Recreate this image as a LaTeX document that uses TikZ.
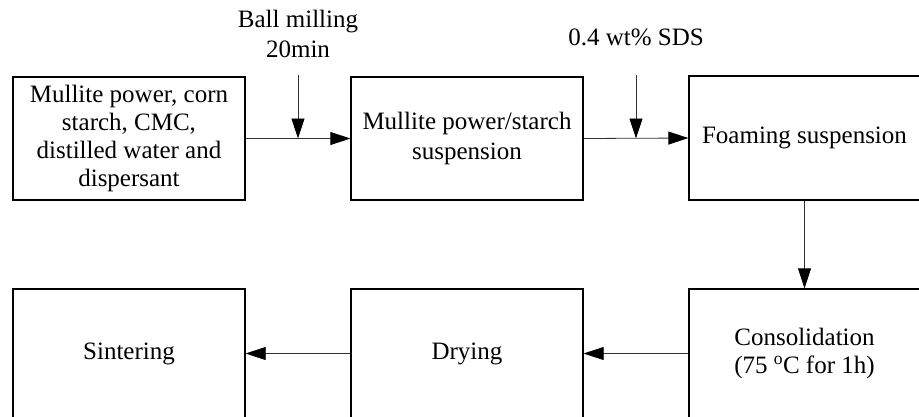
\documentclass[tikz,border=0pt]{standalone}
\usepackage{fontspec}
\setmainfont{Liberation Serif}
\usetikzlibrary{arrows.meta}
\begin{document}
\begin{tikzpicture}[x=1pt,y=-1pt,
  stage/.style={draw=black,line width=1.3pt,minimum width=232pt,inner sep=0pt,align=center,
    font=\fontsize{25}{28.3}\selectfont},
  conn/.style={draw=black!80,line width=0.8pt,-{Triangle[length=20pt,width=13pt,color=black]}},
  lab/.style={inner sep=0pt,align=center,font=\fontsize{25}{30}\selectfont}]
\useasboundingbox (0,0) rectangle (919,416);
\clip (0,0) rectangle (919,416);
% top row
\node[stage,minimum height=123pt] (b1) at (129,138.5) {Mullite power, corn\\starch, CMC,\\distilled water and\\dispersant};
\node[stage,minimum height=123pt,font=\fontsize{25}{30}\selectfont] (b2) at (467,138.5) {Mullite power/starch\\suspension};
\node[stage,minimum height=124pt,minimum width=231pt] (b3) at (804.5,138) {Foaming suspension};
% bottom row
\node[stage,minimum height=129pt] (b6) at (129,353.5) {Sintering};
\node[stage,minimum height=129pt] (b5) at (467,353.5) {Drying};
\node[stage,minimum height=129pt,minimum width=231pt] (b4) at (804.5,353.5) {Consolidation\\(75 \textsuperscript{o}C for 1h)};
% labels
\node[lab] (l1) at (298,34) {Ball milling\\20min};
\node[lab,anchor=base] (l2) at (636,45) {0.4 wt\% SDS};
\coordinate (a1) at (298,75);
\coordinate (a2) at (636,75);
% connectors
\draw[conn] (b1.east) -- (b2.west);
\draw[conn] (b2.east) -- (b3.west);
\draw[conn] (a1) -- (a1 |- b1.east);
\draw[conn] (a2) -- (a2 |- b2.east);
\draw[conn] (b3.south) -- (b4.north);
\draw[conn] (b4.west) -- (b5.east);
\draw[conn] (b5.west) -- (b6.east);
\end{tikzpicture}
\end{document}
